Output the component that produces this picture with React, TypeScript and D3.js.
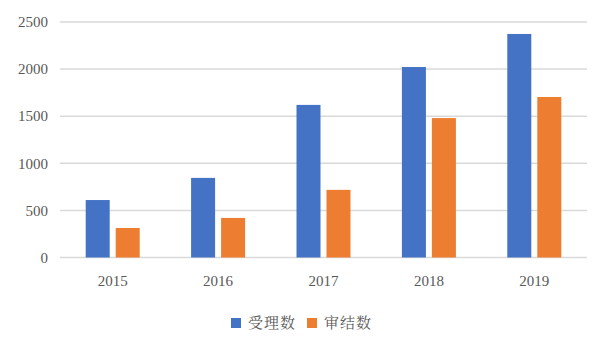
import React from "react";
import * as d3 from "d3";

const categories = ["2015", "2016", "2017", "2018", "2019"];
const seriesNames = ["受理数", "审结数"];
const accepted = [610, 845, 1620, 2022, 2373];
const concluded = [313, 420, 718, 1480, 1704];
const yTicks = [0, 500, 1000, 1500, 2000, 2500];
const colors = ["#4472C4", "#ED7D31"];

export default function App() {
  const W = 610, H = 352;
  const left = 60, right = 587, top = 22, bottom = 257.5;
  const x = d3.scaleBand<string>().domain(categories).range([left, right]).paddingInner(0).paddingOuter(0);
  const y = d3.scaleLinear().domain([0, 2500]).range([bottom, top]);
  const barW = 24, gap = 6;
  const series = [accepted, concluded];
  const numFont = "'Liberation Serif', 'Times New Roman', serif";
  return (
    <svg width={W} height={H} style={{ position: "absolute", left: 0, top: 0, background: "#fff" }}>
      {yTicks.map((t) => (
        <g key={t}>
          <line x1={left} x2={right} y1={y(t)} y2={y(t)} stroke="#d9d9d9" strokeWidth={1.5} />
          <text x={48} y={y(t)} dy="0.35em" textAnchor="end" fontFamily={numFont} fontSize={15} fill="#595959">{t}</text>
        </g>
      ))}
      {categories.map((c, i) => {
        const cx = (x(c) as number) + x.bandwidth() / 2;
        return (
          <g key={c}>
            {series.map((s, j) => {
              const bx = cx - gap / 2 - barW + j * (barW + gap);
              return <rect key={j} x={bx} y={y(s[i])} width={barW} height={bottom - y(s[i])} fill={colors[j]} />;
            })}
            <text x={cx} y={281} dy="0.35em" textAnchor="middle" fontFamily={numFont} fontSize={15} fill="#595959">{c}</text>
          </g>
        );
      })}
      {seriesNames.map((n, j) => {
        const lx = 231 + j * 76;
        return (
          <g key={n}>
            <rect x={lx} y={318} width={10} height={10} fill={colors[j]} />
            <text x={lx + 17} y={323} dy="0.35em" fontFamily="'Noto Serif CJK SC', 'Noto Sans CJK SC', serif" fontSize={15} fill="#595959" letterSpacing={1}>{n}</text>
          </g>
        );
      })}
    </svg>
  );
}
